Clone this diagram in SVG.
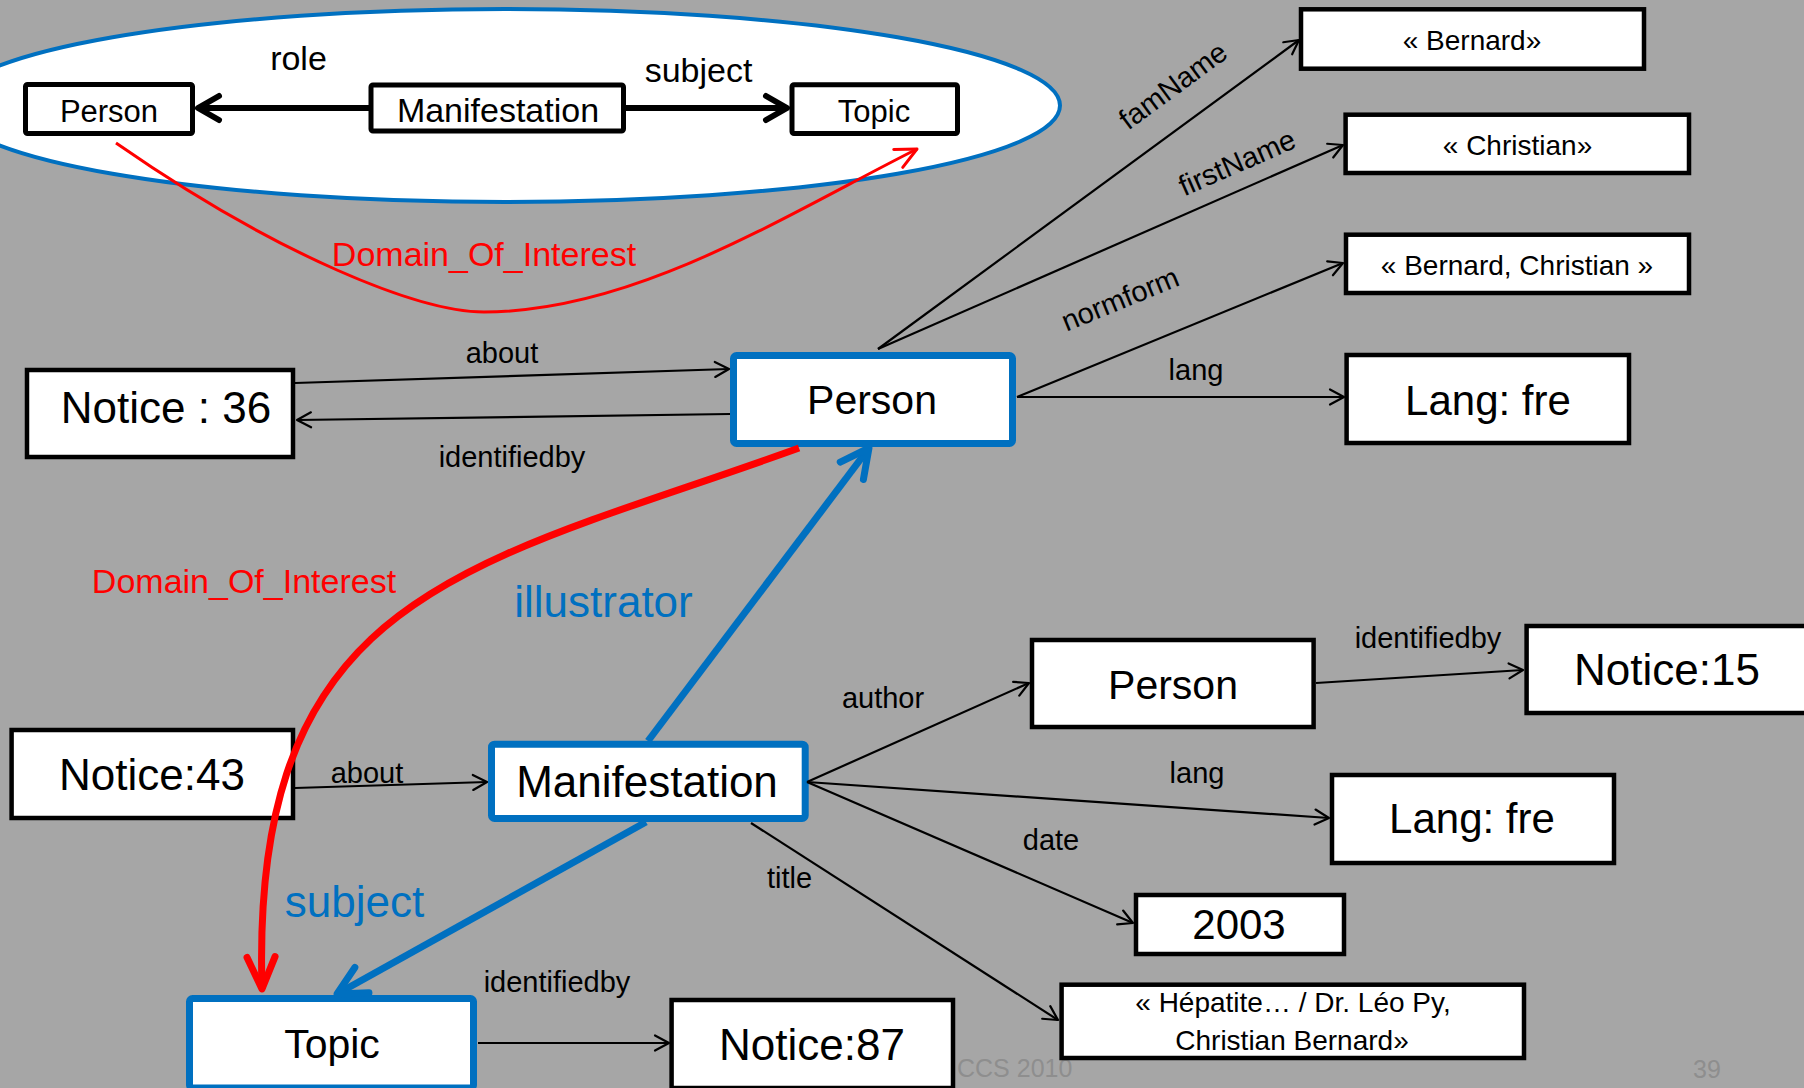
<svg xmlns="http://www.w3.org/2000/svg" width="1804" height="1088" viewBox="0 0 1804 1088">
<style>
text{font-family:"Liberation Sans",Arial,sans-serif;fill:#000}
.box{fill:#fff;stroke:#000;stroke-width:4.5}
.ibox{fill:#fff;stroke:#000;stroke-width:5}
.bbox{fill:#fff;stroke:#0070c0;stroke-width:7}
.e{fill:none;stroke:#000;stroke-width:2.2;marker-end:url(#ah)}
.el{font-size:29px;text-anchor:middle}
.nt{text-anchor:middle}
.foot{fill:#8e8e8e;font-size:25px}
</style>
<defs>
<marker id="ah" markerUnits="userSpaceOnUse" viewBox="-20 -12 24 24" markerWidth="24" markerHeight="24" refX="0" refY="0" orient="auto" overflow="visible">
<path d="M-14,-7.5 L0,0 L-14,7.5" fill="none" stroke="#000" stroke-width="2.2" stroke-linecap="round" stroke-linejoin="round"/>
</marker>
<marker id="ahThick" markerUnits="userSpaceOnUse" viewBox="-30 -20 36 40" markerWidth="36" markerHeight="40" refX="0" refY="0" orient="auto" overflow="visible">
<path d="M-21,-12 L0,0 L-21,12" fill="none" stroke="#000" stroke-width="6" stroke-linecap="round" stroke-linejoin="round"/>
</marker>
<marker id="ahBlue" markerUnits="userSpaceOnUse" viewBox="-40 -25 50 50" markerWidth="50" markerHeight="50" refX="0" refY="0" orient="auto" overflow="visible">
<path d="M-28.5,-14.5 L0,0 L-28.5,14.5" fill="none" stroke="#0070c0" stroke-width="7" stroke-linecap="round" stroke-linejoin="round"/>
</marker>
<marker id="ahRed" markerUnits="userSpaceOnUse" viewBox="-40 -25 50 50" markerWidth="50" markerHeight="50" refX="0" refY="0" orient="auto" overflow="visible">
<path d="M-32,-14 L0,0 L-32,14" fill="none" stroke="#ff0000" stroke-width="7" stroke-linecap="round" stroke-linejoin="round"/>
</marker>
<marker id="ahRedThin" markerUnits="userSpaceOnUse" viewBox="-30 -15 36 30" markerWidth="36" markerHeight="30" refX="0" refY="0" orient="auto" overflow="visible">
<path d="M-21,-10 L0,0 L-21,10" fill="none" stroke="#ff0000" stroke-width="3" stroke-linecap="round" stroke-linejoin="round"/>
</marker>
</defs>
<rect x="0" y="0" width="1804" height="1088" fill="#a6a6a6"/>
<g id="footer">
<text class="foot" x="957" y="1077">CCS 2010</text>
<text class="foot" x="1693" y="1078">39</text>
</g>
<g id="schema">
<ellipse cx="505" cy="105.5" rx="555" ry="96.5" fill="#fff" stroke="#0070c0" stroke-width="4"/>
<g id="s-person"><rect class="ibox" x="25.5" y="84.5" width="167" height="49" rx="2"/><text class="nt" x="109" y="121.5" font-size="31">Person</text></g>
<g id="s-manif"><rect class="ibox" x="371" y="85" width="252.5" height="46" rx="2"/><text class="nt" x="498" y="121.5" font-size="34">Manifestation</text></g>
<g id="s-topic"><rect class="ibox" x="792" y="84.8" width="165.5" height="48.7" rx="2"/><text class="nt" x="874" y="121.5" font-size="31">Topic</text></g>
</g>
<g id="nodes">
<g id="n-bernard"><rect class="box" x="1301" y="9.3" width="343" height="59.4"/><text class="nt" x="1472" y="50" font-size="28">« Bernard»</text></g>
<g id="n-christian"><rect class="box" x="1345.6" y="114.7" width="343.4" height="58.3"/><text class="nt" x="1517.5" y="155" font-size="28">« Christian»</text></g>
<g id="n-normform"><rect class="box" x="1346" y="234.7" width="343" height="58.3"/><text class="nt" x="1517" y="275" font-size="28">« Bernard, Christian »</text></g>
<g id="n-langfre1"><rect class="box" x="1346.6" y="355" width="282.4" height="88"/><text class="nt" x="1488" y="415" font-size="42">Lang: fre</text></g>
<g id="n-notice36"><rect class="box" x="27" y="370" width="266" height="87"/><text class="nt" x="166" y="423" font-size="44">Notice : 36</text></g>
<g id="n-person"><rect class="bbox" x="733.5" y="355.5" width="279" height="88" rx="3"/><text class="nt" x="872" y="414" font-size="41">Person</text></g>
<g id="n-notice43"><rect class="box" x="11.6" y="730" width="281.4" height="88"/><text class="nt" x="152" y="790" font-size="44">Notice:43</text></g>
<g id="n-manif"><rect class="bbox" x="491.5" y="744.2" width="313.7" height="74.3" rx="3"/><text class="nt" x="647" y="797" font-size="44">Manifestation</text></g>
<g id="n-topic"><rect class="bbox" x="189.5" y="998.5" width="284" height="89.5" rx="3"/><text class="nt" x="332" y="1058" font-size="41">Topic</text></g>
<g id="n-notice87"><rect class="box" x="671.6" y="1000" width="281.4" height="88"/><text class="nt" x="812" y="1060" font-size="44">Notice:87</text></g>
<g id="n-person2"><rect class="box" x="1032" y="640" width="281.6" height="87"/><text class="nt" x="1173" y="699" font-size="41">Person</text></g>
<g id="n-notice15"><rect class="box" x="1526.6" y="626" width="300" height="87"/><text class="nt" x="1667" y="685" font-size="44">Notice:15</text></g>
<g id="n-langfre2"><rect class="box" x="1332" y="775" width="282" height="88"/><text class="nt" x="1472" y="833" font-size="42">Lang: fre</text></g>
<g id="n-2003"><rect class="box" x="1136" y="895" width="208" height="59"/><text class="nt" x="1239" y="939" font-size="42">2003</text></g>
<g id="n-title"><rect class="box" x="1061.6" y="984.7" width="462.4" height="73.3"/><text class="nt" x="1293" y="1012" font-size="28">« Hépatite… / Dr. Léo Py,</text><text class="nt" x="1292" y="1050" font-size="28">Christian Bernard»</text></g>
</g>
<g id="connectors">
<line x1="369" y1="108" x2="198" y2="108" stroke="#000" stroke-width="6" marker-end="url(#ahThick)"/>
<line x1="626" y1="108" x2="787" y2="108" stroke="#000" stroke-width="6" marker-end="url(#ahThick)"/>
<path d="M116,143 C280,257 420,312 484,312 C634,312 783,216.5 917,149" fill="none" stroke="#ff0000" stroke-width="3" marker-end="url(#ahRedThin)"/>
<line class="e" x1="878" y1="349" x2="1299" y2="40"/>
<line class="e" x1="878" y1="349" x2="1343" y2="145"/>
<line class="e" x1="1017" y1="397" x2="1343" y2="263"/>
<line class="e" x1="1017" y1="397" x2="1344" y2="397"/>
<line class="e" x1="295" y1="383" x2="729" y2="369"/>
<line class="e" x1="730" y1="414" x2="297" y2="420"/>
<line class="e" x1="295" y1="788" x2="487" y2="782"/>
<line class="e" x1="807" y1="782" x2="1029" y2="683"/>
<line class="e" x1="807" y1="782" x2="1329" y2="818"/>
<line class="e" x1="807" y1="782" x2="1133" y2="923"/>
<line class="e" x1="751" y1="823" x2="1058" y2="1020"/>
<line class="e" x1="1316" y1="683" x2="1523" y2="670"/>
<line class="e" x1="478" y1="1043" x2="669" y2="1043"/>
<path d="M799,448 C470,567 250,588 262,989" fill="none" stroke="#ff0000" stroke-width="7" marker-end="url(#ahRed)"/>
<line x1="648" y1="741" x2="869" y2="448" stroke="#0070c0" stroke-width="7" marker-end="url(#ahBlue)"/>
<line x1="646" y1="822" x2="337" y2="994" stroke="#0070c0" stroke-width="7" marker-end="url(#ahBlue)"/>
</g>
<g id="labels">
<text x="298.5" y="70" font-size="34" class="nt">role</text>
<text x="698.5" y="82" font-size="34" class="nt">subject</text>
<text x="484" y="266" font-size="34" class="nt" style="fill:#ff0000">Domain_Of_Interest</text>
<text class="el" transform="translate(1173,85.5) rotate(-36.3)" y="10">famName</text>
<text class="el" transform="translate(1237,162.5) rotate(-23.6)" y="10">firstName</text>
<text class="el" transform="translate(1120,299) rotate(-22.3)" y="10">normform</text>
<text class="el" x="1196" y="380">lang</text>
<text class="el" x="502" y="363">about</text>
<text class="el" x="512" y="467">identifiedby</text>
<text x="244" y="593" font-size="34" class="nt" style="fill:#ff0000">Domain_Of_Interest</text>
<text x="603.5" y="617" font-size="44" class="nt" style="fill:#0070c0">illustrator</text>
<text class="el" x="883" y="708">author</text>
<text class="el" x="1428" y="648">identifiedby</text>
<text class="el" x="367" y="783">about</text>
<text class="el" x="1197" y="783">lang</text>
<text class="el" x="1051" y="850">date</text>
<text class="el" x="789.5" y="888">title</text>
<text x="354.5" y="917" font-size="44" class="nt" style="fill:#0070c0">subject</text>
<text class="el" x="557" y="992">identifiedby</text>
</g>
</svg>
